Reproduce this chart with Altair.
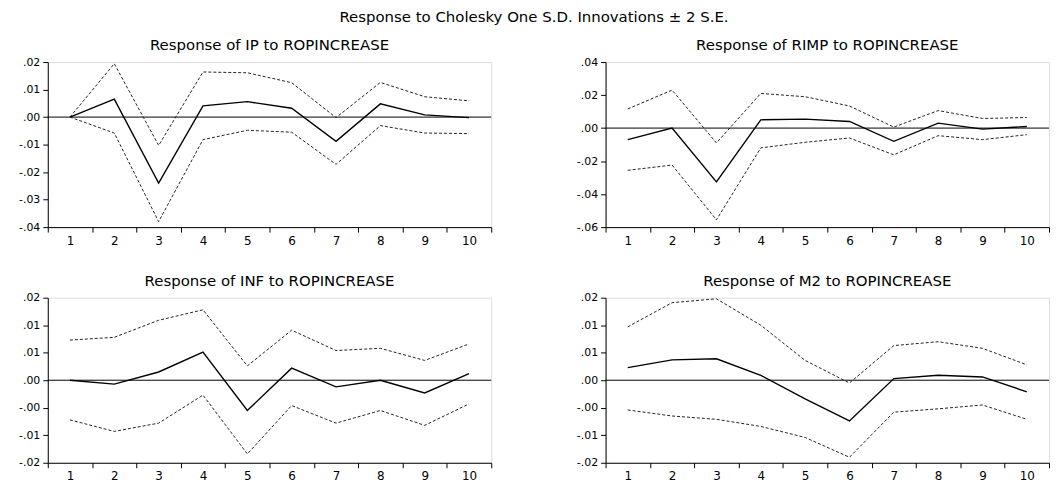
import altair as alt
import pandas as pd

steps = [1, 2, 3, 4, 5, 6, 7, 8, 9, 10]

# Panel 1: IP
ip_resp = [0.0, 0.0065, -0.0240, 0.0041, 0.0056, 0.0032, -0.0088, 0.0048, 0.0008, -0.0002]
ip_up = [0.0, 0.0194, -0.0103, 0.0164, 0.0161, 0.0125, -0.0002, 0.0126, 0.0074, 0.0059]
ip_lo = [0.0, -0.0058, -0.0380, -0.0082, -0.0048, -0.0055, -0.0172, -0.0031, -0.0058, -0.0060]
ip_ticks = [0.02, 0.01, 0.0, -0.01, -0.02, -0.03, -0.04]
ip_tick_labels = [".02", ".01", ".00", "-.01", "-.02", "-.03", "-.04"]

# Panel 2: RIMP
rimp_resp = [-0.0070, 0.0, -0.0326, 0.0050, 0.0054, 0.0040, -0.0080, 0.0030, -0.0006, 0.0010]
rimp_up = [0.0116, 0.0230, -0.0090, 0.0210, 0.0190, 0.0134, 0.0006, 0.0106, 0.0058, 0.0064]
rimp_lo = [-0.0256, -0.0224, -0.0556, -0.0120, -0.0086, -0.0060, -0.0162, -0.0046, -0.0070, -0.0040]
rimp_ticks = [0.04, 0.02, 0.0, -0.02, -0.04, -0.06]
rimp_tick_labels = [".04", ".02", ".00", "-.02", "-.04", "-.06"]

# Panel 3: INF
inf_resp = [0.0, -0.0007, 0.0015, 0.0051, -0.0055, 0.0022, -0.0012, 0.0, -0.0023, 0.0012]
inf_up = [0.0073, 0.0078, 0.0109, 0.0128, 0.0026, 0.0091, 0.0054, 0.0058, 0.0036, 0.0066]
inf_lo = [-0.0072, -0.0093, -0.0078, -0.0027, -0.0134, -0.0046, -0.0078, -0.0055, -0.0082, -0.0043]
small_ticks = [0.015, 0.01, 0.005, 0.0, -0.005, -0.01, -0.015]
small_tick_labels = [".02", ".01", ".01", ".00", "-.00", "-.01", "-.02"]

# Panel 4: M2
m2_resp = [0.0023, 0.0037, 0.0039, 0.0009, -0.0034, -0.0074, 0.0003, 0.0009, 0.0006, -0.0021]
m2_up = [0.0097, 0.0141, 0.0148, 0.0100, 0.0036, -0.0005, 0.0063, 0.0070, 0.0058, 0.0028]
m2_lo = [-0.0054, -0.0065, -0.0071, -0.0084, -0.0104, -0.0140, -0.0058, -0.0052, -0.0045, -0.0071]

FONT = "DejaVu Sans"
W, H = 446, 166


def panel(title, resp, up, lo, ticks, labels):
    rows = []
    for s, v in zip(steps, resp):
        rows.append({"step": s, "series": "resp", "value": v})
    for s, v in zip(steps, up):
        rows.append({"step": s, "series": "upper", "value": v})
    for s, v in zip(steps, lo):
        rows.append({"step": s, "series": "lower", "value": v})
    df = pd.DataFrame(rows)
    vals_js = "[" + ",".join(repr(t) for t in ticks) + "]"
    labs_js = "[" + ",".join("'" + l + "'" for l in labels) + "]"
    label_expr = f"{labs_js}[indexof({vals_js}, datum.value)]"
    xenc = alt.X("step:O", bandPosition=0.5,
                 scale=alt.Scale(type="band", paddingInner=0, paddingOuter=0),
                 axis=alt.Axis(title=None, labelAngle=0, tickBand="extent",
                               labelFontSize=12, labelFont=FONT, labelColor="#000",
                               domainColor="#000", tickColor="#000", tickSize=5,
                               labelPadding=3))
    yscale = alt.Scale(domain=[min(ticks), max(ticks)], nice=False, zero=False)
    yaxis = alt.Axis(title=None, values=ticks, labelExpr=label_expr, grid=False,
                     labelFontSize=11, labelFont=FONT, labelColor="#000",
                     domainColor="#000", tickColor="#000", tickSize=5, labelPadding=3)
    base = alt.Chart(df)
    bands = base.transform_filter("datum.series != 'resp'").mark_line(
        color="#222", strokeWidth=1, strokeDash=[3, 2]
    ).encode(x=xenc, y=alt.Y("value:Q", scale=yscale, axis=yaxis),
             detail="series:N")
    zero = alt.Chart(pd.DataFrame({"z": [0.0]})).mark_rule(color="#000", strokeWidth=1).encode(
        y=alt.Y("z:Q", scale=yscale, axis=yaxis))
    line = base.transform_filter("datum.series == 'resp'").mark_line(
        color="#000", strokeWidth=1.4
    ).encode(x=xenc, y=alt.Y("value:Q", scale=yscale, axis=yaxis))
    return alt.layer(zero, bands, line).properties(
        width=W, height=H,
        title=alt.TitleParams(title, fontSize=15, font=FONT, fontWeight="normal",
                              color="#000", offset=3),
    )


p1 = panel("Response of IP to ROPINCREASE", ip_resp, ip_up, ip_lo, ip_ticks, ip_tick_labels)
p2 = panel("Response of RIMP to ROPINCREASE", rimp_resp, rimp_up, rimp_lo, rimp_ticks, rimp_tick_labels)
p3 = panel("Response of INF to ROPINCREASE", inf_resp, inf_up, inf_lo, small_ticks, small_tick_labels)
p4 = panel("Response of M2 to ROPINCREASE", m2_resp, m2_up, m2_lo, small_ticks, small_tick_labels)

chart = alt.vconcat(
    alt.hconcat(p1, p2, spacing=84),
    alt.hconcat(p3, p4, spacing=84),
    spacing=26,
).properties(
    title=alt.TitleParams("Response to Cholesky One S.D. Innovations \u00b1 2 S.E.",
                          fontSize=15, font=FONT, fontWeight="normal", color="#000",
                          anchor="middle", offset=13),
    padding={"left": 10, "top": 0, "right": 2, "bottom": 2},
).configure_view(stroke="#000", strokeWidth=1).configure(background="white")

chart.save("out.html", embed_options={"renderer": "svg", "actions": False})
